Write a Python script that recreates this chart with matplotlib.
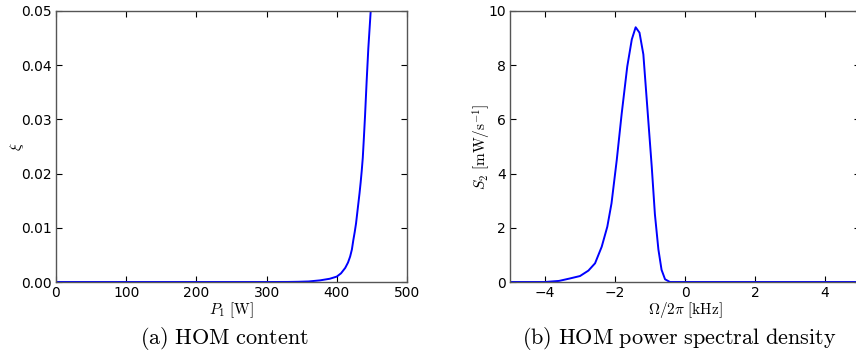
import numpy as np
import matplotlib
matplotlib.use('Agg')
from matplotlib import pyplot as plt

plt.rcParams['mathtext.fontset'] = 'cm'
plt.rcParams['font.size'] = 10

# (a) HOM content vs power
power_w = [0, 100, 200, 300, 330, 345, 360, 376, 390, 400, 406, 412, 416, 419, 421.5, 423.5, 425.5,
           427.4, 429, 430.7, 432.4, 434, 435.5, 437, 438.5, 440.2, 442.5, 444.9, 448.3, 450]
xi = [0, 0, 0, 0, 0.00001, 0.00004, 0.0001, 0.0003, 0.0006, 0.001, 0.0016, 0.0026, 0.0036,
      0.0047, 0.006, 0.0077, 0.0092, 0.0108, 0.0126, 0.0145, 0.0164, 0.0184, 0.0205, 0.0229,
      0.0264, 0.0306, 0.037, 0.0431, 0.05, 0.054]

# (b) HOM power spectral density
freq_khz = [-5, -4.0, -3.6, -3.29, -3.0, -2.76, -2.57, -2.38, -2.22, -2.10, -1.95, -1.81, -1.65,
            -1.52, -1.41, -1.30, -1.19, -1.08, -0.95, -0.86, -0.76, -0.67, -0.57, -0.43, 0, 5]
psd = [0, 0.0, 0.04, 0.13, 0.22, 0.42, 0.69, 1.3, 2.04, 2.9, 4.5, 6.2, 7.95,
       8.95, 9.4, 9.2, 8.4, 6.5, 4.25, 2.5, 1.2, 0.45, 0.1, 0.0, 0, 0]

fig = plt.figure(figsize=(8.56, 3.54), dpi=100)
W, H = 856, 354


def add_ax(x0, x1, y0, y1):
    return fig.add_axes([x0 / W, 1 - y1 / H, (x1 - x0) / W, (y1 - y0) / H])


def style(ax):
    ax.tick_params(direction='in', top=True, right=True, length=4, width=0.8, pad=3)
    for s in ax.spines.values():
        s.set_color('#555555')
        s.set_linewidth(1.0)


ax1 = add_ax(56, 407, 11, 282)
ax1.plot(power_w, xi, color='blue', lw=1.4)
ax1.set_xlim(0, 500)
ax1.set_ylim(0, 0.05)
ax1.set_xticks([0, 100, 200, 300, 400, 500])
ax1.set_yticks([0, 0.01, 0.02, 0.03, 0.04, 0.05])
ax1.set_yticklabels(['0.00', '0.01', '0.02', '0.03', '0.04', '0.05'])
ax1.set_xlabel(r'$P_1\ [\mathrm{W}]$', fontsize=11, labelpad=0)
ax1.set_ylabel(r'$\xi$', fontsize=11)
ax1.yaxis.set_label_coords(-30 / 351, 0.5)
style(ax1)

ax2 = add_ax(510, 860, 11, 282)
ax2.plot(freq_khz, psd, color='blue', lw=1.4)
ax2.set_xlim(-5, 5)
ax2.set_ylim(0, 10)
ax2.set_xticks([-4, -2, 0, 2, 4])
ax2.set_yticks([0, 2, 4, 6, 8, 10])
ax2.set_xlabel(r'$\Omega/2\pi\ [\mathrm{kHz}]$', fontsize=11, labelpad=0)
ax2.set_ylabel(r'$S_2\ [\mathrm{mW/s}^{-1}]$', fontsize=11)
ax2.yaxis.set_label_coords(-17 / 350, 0.5)
style(ax2)

fig.text(225 / W, 1 - 338 / H, r'$\mathrm{(a)\ HOM\ content}$', ha='center', va='center', fontsize=16)
fig.text(679 / W, 1 - 338 / H, r'$\mathrm{(b)\ HOM\ power\ spectral\ density}$', ha='center',
         va='center', fontsize=16)

fig.savefig('out.png', dpi=100)
